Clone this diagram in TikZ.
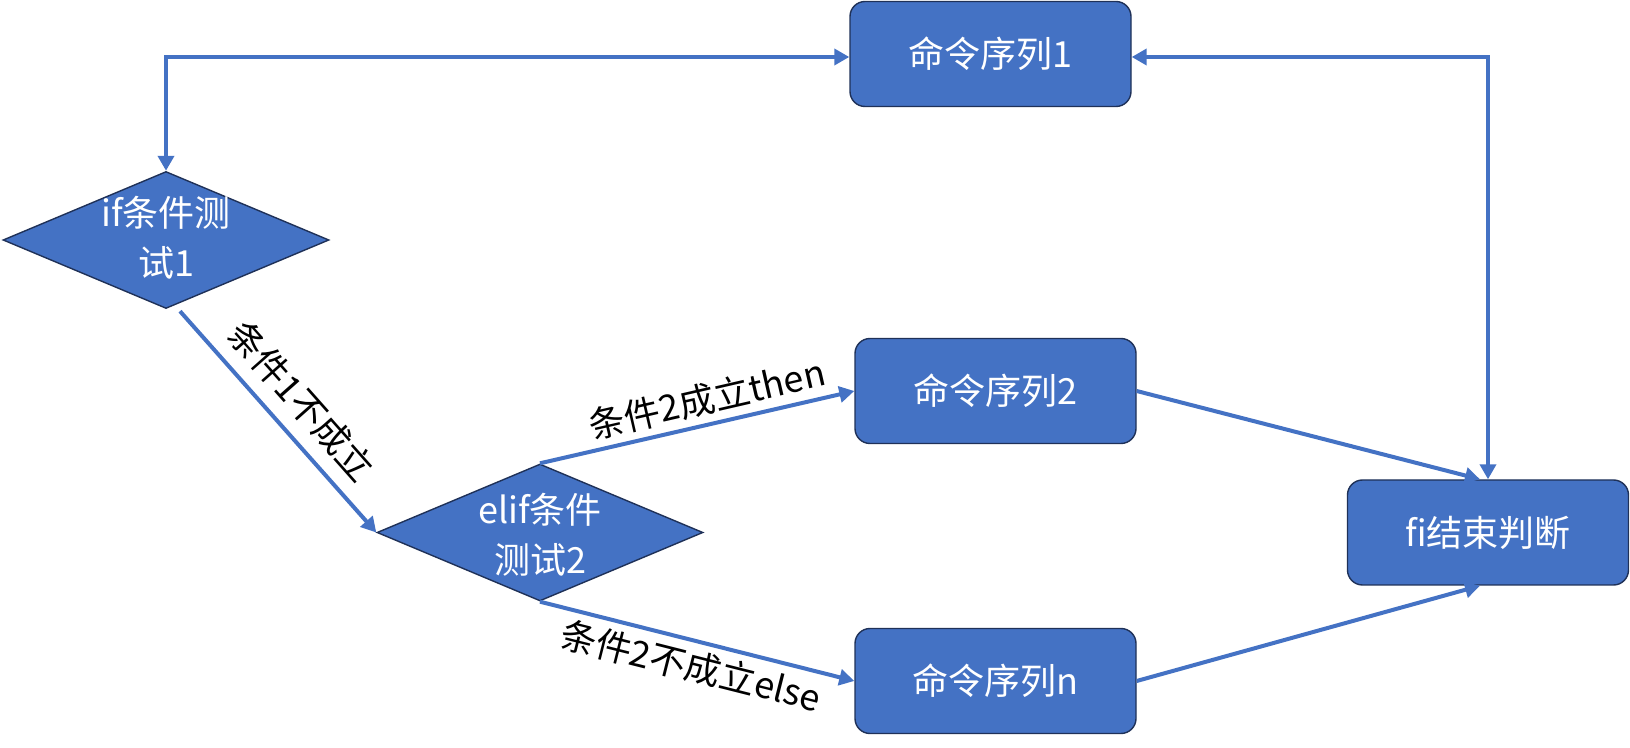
\documentclass[tikz,border=0pt]{standalone}
\usepackage{fontspec}
\setmainfont{Noto Sans CJK SC}
\usetikzlibrary{shapes.geometric,arrows.meta,calc}
\definecolor{blu}{HTML}{4472C4}
\definecolor{edgec}{HTML}{1F3158}
\begin{document}
\begin{tikzpicture}[x=0.5pt,y=-0.5pt,
  >={Triangle[length=7.5pt,width=8pt]},
  box/.style={draw=edgec,line width=0.7pt,fill=blu,rounded corners=7.5pt,
    minimum width=140.5pt,minimum height=52.5pt,text=white,
    font=\fontsize{18}{26}\selectfont},
  dia/.style={diamond,draw=edgec,line width=0.7pt,fill=blu,
    minimum width=163pt,minimum height=68.5pt,inner sep=0pt},
  wtxt/.style={text=white,align=center,font=\fontsize{18}{25}\selectfont},
  conn/.style={draw=blu,line width=2pt},
  lbl/.style={font=\fontsize{18}{22}\selectfont,text=black,sloped}]
\useasboundingbox (0,0) rectangle (1630,748);

\node[box] (b1) at (990.5,54) {命令序列1};
\node[box] (b2) at (995.5,391) {命令序列2};
\node[box] (bn) at (995.5,681) {命令序列n};
\node[box] (fi) at (1488,532.5) {fi结束判断};

\node[dia] (d1) at (166,240) {};
\node[wtxt] (d1t) at ([yshift=1pt]d1.center) {if条件测\\试1};
\node[dia] (d2) at (540,532.5) {};
\node[wtxt] (d2t) at ([yshift=-1pt]d2.center) {elif条件\\测试2};

\draw[conn,<->] ([yshift=-1.5pt]b1.west) -| (d1.north);
\draw[conn,<->] ([yshift=-1.5pt]b1.east) -| (fi.north);
\draw[conn,->] ([xshift=7pt,yshift=-1pt]d1.south) -- node[lbl,above=3pt]{条件1不成立} (d2.west);
\draw[conn,->] (d2.north) -- node[lbl,above,pos=0.55]{条件2成立then} (b2.west);
\draw[conn,->] (d2.south) -- node[lbl,below,pos=0.5]{条件2不成立else} (bn.west);
\draw[conn,->] (b2.east) -- ([xshift=-4pt]fi.north);
\draw[conn,->] (bn.east) -- ([xshift=-4pt]fi.south);
\end{tikzpicture}
\end{document}
